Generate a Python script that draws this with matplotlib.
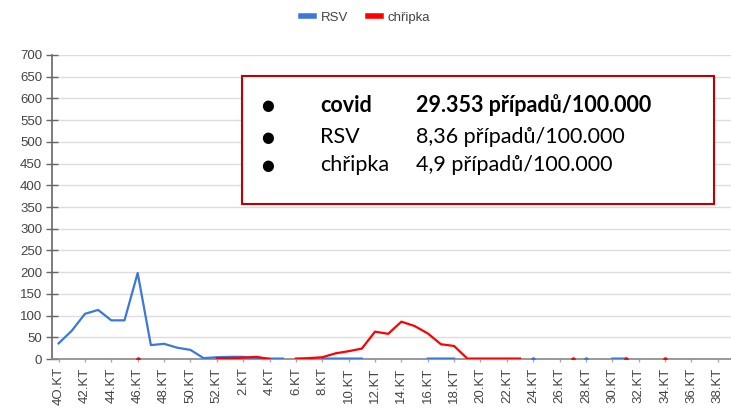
import numpy as np
import matplotlib.pyplot as plt
from matplotlib.lines import Line2D
from matplotlib.patches import Rectangle

# weeks 40..52, then 1..39
weeks = list(range(40, 53)) + list(range(1, 40))
week_labels = ['4O.KT' if w == 40 else f'{w}.KT' for w in weeks]

N = None
rsv = [36, 65, 104, 113, 89, 89, 198, 32, 35, 26, 21, 2, 4, 5, 5, 1, 1, 1, N, N,
       1, 1, 1, 1, N, N, N, N, 1, 1, 1, N, N, N, N, N, 1, N, N, N,
       1, N, 1, 1, N, N, N, N, N, N, N, N]
chripka = [N, N, N, N, N, N, 1, N, N, N, N, N, 2, 2, 3, 5, 0, N, 1, 2,
           4, 13, 18, 24, 63, 58, 86, 76, 59, 34, 30, 1, 1, 1, 1, 1, N, N, N, 1,
           N, N, N, 1, N, N, 1, N, N, N, N, N]

box_rows = [
    ('covid', '29.353 případů/100.000', 'bold'),
    ('RSV', '8,36 případů/100.000', 'normal'),
    ('chřipka', '4,9 případů/100.000', 'normal'),
]

BLUE = '#3c78d8'
RED = '#ff0000'

fig = plt.figure(figsize=(7.31, 4.16), dpi=100)
ax = fig.add_axes([0.0711, 0.137, 0.9289, 0.7308])

x = np.arange(len(weeks))
for vals, col in [(rsv, BLUE), (chripka, RED)]:
    y = np.array([np.nan if v is None else v for v in vals], dtype=float)
    ax.plot(x, y, color=col, lw=1.6, solid_joinstyle='round', zorder=3)
    # single points with no neighbours would not show as a line
    prev_nan = np.r_[True, np.isnan(y[:-1])]
    next_nan = np.r_[np.isnan(y[1:]), True]
    lone = ~np.isnan(y) & prev_nan & next_nan
    ax.plot(x[lone], y[lone], 'o', color=col, ms=3.2, mec='none', zorder=3)

ax.set_xlim(-0.5, 51.0)
ax.set_ylim(0, 700)
ax.set_yticks(range(0, 701, 50))
ax.set_xticks(x[::2])
ax.set_xticklabels(week_labels[::2], rotation=90, fontsize=9.5, color='#444444',
                   family='Liberation Sans')
for lab in ax.get_yticklabels():
    lab.set_fontsize(9.5)
    lab.set_color('#444444')
    lab.set_family('Liberation Sans')

ax.grid(axis='y', color='#dddddd', lw=1)
ax.set_axisbelow(True)
for s in ['top', 'right']:
    ax.spines[s].set_visible(False)
ax.spines['left'].set_color('#666666')
ax.spines['bottom'].set_color('#888888')
ax.spines['left'].set_linewidth(1.2)
ax.spines['bottom'].set_linewidth(1.2)
ax.tick_params(axis='y', direction='inout', length=8, width=1, color='#666666', pad=3)
ax.tick_params(axis='x', direction='out', length=2, width=1, color='#aaaaaa', pad=4)

handles = [Line2D([], [], color=BLUE, lw=4), Line2D([], [], color=RED, lw=4)]
leg = fig.legend(handles, ['RSV', 'chřipka'], loc='center', bbox_to_anchor=(0.5, 0.958),
                 ncol=2, frameon=False, handlelength=1.0, handletextpad=0.5,
                 columnspacing=1.5, prop={'family': 'Liberation Sans', 'size': 9.5})
for t in leg.get_texts():
    t.set_color('#444444')

# text box over the chart
W, H = 731, 416
fig.add_artist(Rectangle((242 / W, 1 - 204 / H), 472 / W, 128 / H, transform=fig.transFigure,
                         facecolor='white', edgecolor='#c00000', lw=1.5, zorder=5))
row_y = [105, 137, 165]
for (name, val, wt), ry in zip(box_rows, row_y):
    fy = 1 - ry / H
    fig.text(268 / W, fy, '●', fontsize=10.5, va='center', ha='center', zorder=6,
             family=['DejaVu Sans'])
    fig.text(320 / W, fy, name, fontsize=15.5, fontweight=wt, va='center', zorder=6,
             family=['Lato', 'DejaVu Sans'])
    fig.text(416 / W, fy, val, fontsize=15.5, fontweight=wt, va='center', zorder=6,
             family=['Lato', 'DejaVu Sans'])

fig.savefig('out.png', dpi=100)
